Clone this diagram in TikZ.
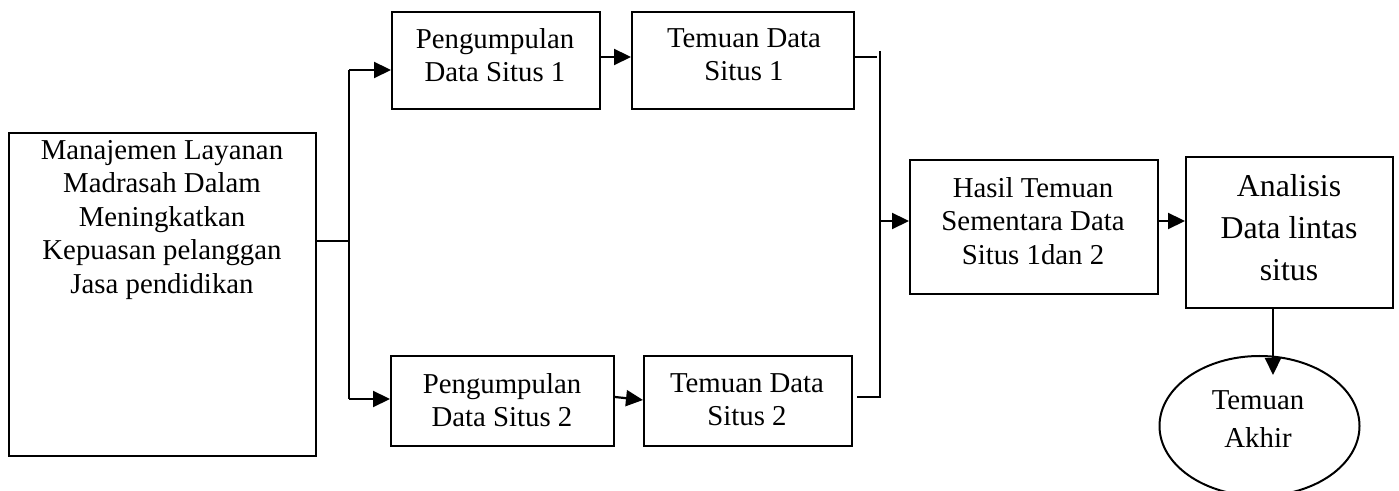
\documentclass[tikz,border=0pt]{standalone}
\usepackage{fontspec}
\setmainfont{Liberation Serif}
\usetikzlibrary{arrows.meta,shapes.geometric}
\begin{document}
\begin{tikzpicture}[x=0.5pt,y=-0.5pt,
  box/.style={draw,line width=1pt,inner sep=0pt,anchor=north west},
  txt/.style={align=center,inner sep=0pt,anchor=north,font=\fontsize{14.4}{16.75}\selectfont},
  bigtxt/.style={align=center,inner sep=0pt,anchor=north,font=\fontsize{15.9}{21}\selectfont},
  ln/.style={line width=1pt},
  arr/.style={line width=1.1pt,-{Triangle[length=8.5pt,width=8pt]}}]
\useasboundingbox (0,0) rectangle (1399,491);
% boxes
\node[box,minimum width=153.5pt,minimum height=161.5pt] (L) at (8,132) {};
\node[box,minimum width=104pt,minimum height=48.5pt] (P1) at (391,11) {};
\node[box,minimum width=111pt,minimum height=48.5pt] (T1) at (631,11) {};
\node[box,minimum width=111.5pt,minimum height=45pt] (P2) at (390,355) {};
\node[box,minimum width=104pt,minimum height=45pt] (T2) at (643,355) {};
\node[box,minimum width=124pt,minimum height=67pt] (H) at (909,159) {};
\node[box,minimum width=103.5pt,minimum height=75.5pt] (A) at (1185,156) {};
\node[draw,ellipse,line width=1pt,inner sep=0pt,minimum width=100pt,minimum height=70pt] (E) at (1259.5,426) {};
% texts
\node[txt] (Lt) at (162,140) {Manajemen Layanan\\Madrasah Dalam\\Meningkatkan\\Kepuasan pelanggan\\Jasa pendidikan};
\node[txt] (P1t) at (495,28) {Pengumpulan\\Data Situs 1};
\node[txt] (T1t) at (744,28) {Temuan Data\\Situs 1};
\node[txt] (P2t) at (502,373) {Pengumpulan\\Data Situs 2};
\node[txt] (T2t) at (747,373) {Temuan Data\\Situs 2};
\node[txt] (Ht) at (1033,177) {Hasil Temuan\\Sementara Data\\Situs 1dan 2};
\node[bigtxt] (At) at (1289,174) {Analisis\\Data lintas\\situs};
\node[txt,font=\fontsize{14.4}{19}\selectfont] (Et) at (1258,390) {Temuan\\Akhir};
% coordinates
\coordinate (j1) at (349,241);
\coordinate (b1t) at (349,70);
\coordinate (b1b) at (349,399);
\coordinate (r1) at (877,57);
\coordinate (b2t) at (880,51);
\coordinate (b2b) at (880,397);
\coordinate (r2) at (857,397);
\coordinate (j2) at (880,221);
\coordinate (j3) at (1157,221);
\coordinate (d1) at (1273,307);
\coordinate (d2) at (1273,375);
% connectors
\draw[ln] (L.east |- j1) -- (j1);
\draw[ln] (b1t) -- (b1b);
\draw[arr] (b1t) -- (P1.west |- b1t);
\draw[arr] (b1b) -- (P2.west |- b1b);
\draw[arr] (P1.east |- r1) -- (T1.west |- r1);
\draw[arr] (P2.east |- 0,397) -- (T2.west |- 0,400);
\draw[ln] (T1.east |- r1) -- (r1);
\draw[ln] (b2t) -- (b2b) -- (r2);
\draw[arr] (j2) -- (H.west |- j2);
\draw[arr] (j3) -- (A.west |- j3);
\draw[arr] (A.south -| d1) -- (d2);
\end{tikzpicture}
\end{document}
